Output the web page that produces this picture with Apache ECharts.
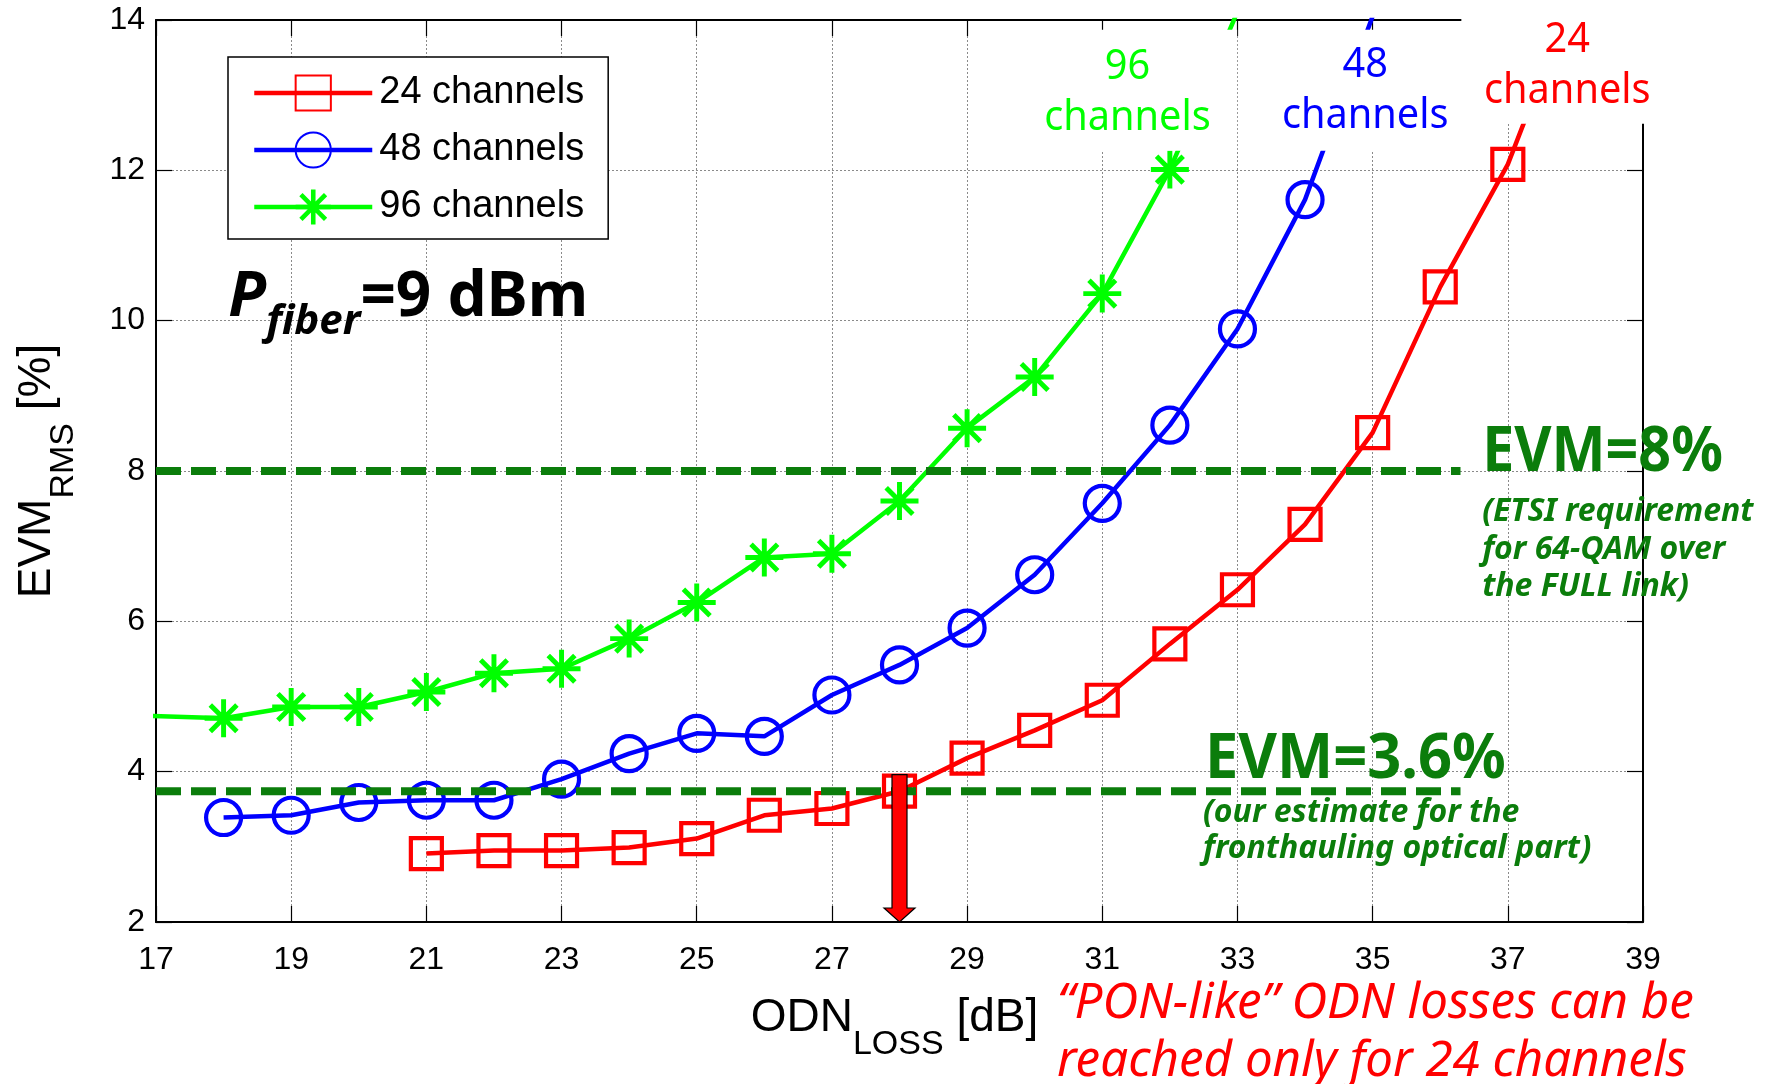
<!DOCTYPE html>
<html><head><meta charset="utf-8">
<script src="https://cdn.jsdelivr.net/npm/echarts@6/dist/echarts.min.js"></script>
<style>html,body{margin:0;padding:0;background:#fff}#c{width:1773px;height:1084px}</style>
</head><body><div id="c"></div>
<script>
// ---- data ----
const seriesNames = ['24 channels', '48 channels', '96 channels'];
const odn24 = [21, 22, 23, 24, 25, 26, 27, 28, 29, 30, 31, 32, 33, 34, 35, 36, 37, 38];
const evm24 = [2.91, 2.95, 2.95, 2.99, 3.11, 3.42, 3.51, 3.74, 4.18, 4.55, 4.95, 5.70, 6.42, 7.29, 8.51, 10.45, 12.08, 14.4];
const odn48 = [18, 19, 20, 21, 22, 23, 24, 25, 26, 27, 28, 29, 30, 31, 32, 33, 34, 35];
const evm48 = [3.39, 3.42, 3.59, 3.62, 3.62, 3.90, 4.24, 4.51, 4.47, 5.02, 5.42, 5.91, 6.62, 7.57, 8.61, 9.89, 11.61, 14.05];
const odn96 = [16, 18, 19, 20, 21, 22, 23, 24, 25, 26, 27, 28, 29, 30, 31, 32, 33];
const evm96 = [4.77, 4.71, 4.86, 4.86, 5.06, 5.31, 5.37, 5.77, 6.25, 6.85, 6.90, 7.60, 8.57, 9.25, 10.36, 12.01, 14.11];
const evmLimits = [8, 3.74];          // EVM=8% and EVM=3.6% reference lines
const limitSpan = [17, 36.3];         // ODN range covered by the reference lines
const ponLoss = [28, 3.96, 2];        // arrow: ODN loss, EVM start, EVM end
const xRange = [17, 39], xStep = 2;
const yRange = [2, 14], yStep = 2;

const zip = (xs, ys) => xs.map((x, i) => [x, ys[i]]);

const RED = '#ff0000', BLUE = '#0000ff', GREEN = '#00ff00', DKGREEN = '#0b7d0b';
const starPath = 'path://M43.5,0L56.5,0L56.5,100L43.5,100Z M0,43.5L100,43.5L100,56.5L0,56.5Z ' +
  'M19.6,10.4L89.6,80.4L80.4,89.6L10.4,19.6Z M80.4,10.4L89.6,19.6L19.6,89.6L10.4,80.4Z';

const ANN = '"Noto Sans", sans-serif';
const annotations = [
  {coord: [31.40, 12.26], text: '96\nchannels', fontSize: 42, color: GREEN, align: 'center', vAlign: 'bottom', lineHeight: 51, scaleX: 0.945, bg: '#fff', padding: [12, 28, 7, 24]},
  {coord: [34.89, 12.26], text: '48\nchannels', fontSize: 42, color: BLUE, align: 'center', vAlign: 'bottom', lineHeight: 51, scaleX: 0.945, bg: '#fff', padding: [10, 24, 9, 24]},
  {coord: [37.88, 12.62], text: '24\nchannels', fontSize: 42, color: RED, align: 'center', vAlign: 'bottom', lineHeight: 51, scaleX: 0.945, bg: '#fff', padding: [12, 24, 7, 24]},
  {coord: [36.62, 8.24], text: 'EVM=8%', fontSize: 63, fontWeight: 'bold', color: DKGREEN, align: 'left', vAlign: 'middle', scaleX: 0.91},
  {coord: [36.62, 7.70], text: '(ETSI requirement\nfor 64-QAM over\nthe FULL link)', fontSize: 32, fontWeight: 'bold', fontStyle: 'italic', color: DKGREEN, align: 'left', vAlign: 'top', lineHeight: 37.5, scaleX: 1.0},
  {coord: [32.52, 4.16], text: 'EVM=3.6%', fontSize: 63, fontWeight: 'bold', color: DKGREEN, align: 'left', vAlign: 'middle', scaleX: 0.945},
  {coord: [32.49, 3.69], text: '(our estimate for the\nfronthauling optical part)', fontSize: 32, fontWeight: 'bold', fontStyle: 'italic', color: DKGREEN, align: 'left', vAlign: 'top', lineHeight: 36, scaleX: 1.0},
  {coord: [30.33, 1.29], text: '\u201cPON-like\u201d ODN losses can be\nreached only for 24 channels', fontSize: 50, fontStyle: 'italic', color: RED, align: 'left', vAlign: 'top', lineHeight: 57.5, scaleX: 0.985},
  {coord: [18.07, 10.71], text: '{P|P}{s|fiber}{r|=9 dBm}', align: 'left', vAlign: 'top', scaleX: 1.0, color: '#000',
    rich: {
      P: {fontSize: 62, fontWeight: 'bold', fontStyle: 'italic', fontFamily: ANN, lineHeight: 62, verticalAlign: 'top', fill: '#000'},
      s: {fontSize: 42, fontWeight: 'bold', fontStyle: 'italic', fontFamily: ANN, lineHeight: 42, verticalAlign: 'top', padding: [34, 0, 0, 0], fill: '#000'},
      r: {fontSize: 62, fontWeight: 'bold', fontFamily: ANN, lineHeight: 62, verticalAlign: 'top', fill: '#000'}
    }}
];

const AX = '"Liberation Sans", Arial, sans-serif';
const gridLine = {show: true, lineStyle: {color: '#8a8a8a', width: 1, type: [2, 2]}};
const tick = {show: true, inside: true, length: 16, lineStyle: {color: '#000', width: 1.2}};

const lineSeries = (name, data, color, symbol, size, filled) => ({
  name, type: 'line', data, z: 2, clip: true,
  symbol, symbolSize: size, showAllSymbol: true,
  lineStyle: {color, width: 4.5},
  itemStyle: filled ? {color, borderWidth: 0} : {color: 'rgba(0,0,0,0)', borderColor: color, borderWidth: 4.2},
  emphasis: {disabled: true}
});

const option = {
  animation: false,
  backgroundColor: '#fff',
  grid: {left: 156, right: 130, top: 20, bottom: 162, containLabel: false},
  legend: {
    data: seriesNames, orient: 'vertical', left: 228, top: 57, align: 'left',
    itemWidth: 118, itemHeight: 44, itemGap: 19, padding: [17, 24, 13, 24],
    backgroundColor: '#fff', borderColor: '#000', borderWidth: 1.5, borderRadius: 0,
    lineStyle: {width: 'inherit'},
    textStyle: {fontFamily: AX, fontSize: 38, color: '#000', padding: [0, 0, 0, 2]},
    selectedMode: false
  },
  xAxis: [{
    type: 'value', min: xRange[0], max: xRange[1], interval: xStep,
    axisLine: {show: true, onZero: false, lineStyle: {color: '#000', width: 2}},
    axisTick: tick, splitLine: gridLine,
    axisLabel: {fontFamily: AX, fontSize: 32, color: '#000', margin: 22},
    name: '{a|ODN}{b|LOSS}{a| [dB]}', nameLocation: 'middle', nameGap: 73,
    nameTextStyle: {padding: [0, 10, 0, 0], rich: {
      a: {fontFamily: AX, fontSize: 46, lineHeight: 46, color: '#000', verticalAlign: 'top'},
      b: {fontFamily: AX, fontSize: 34, lineHeight: 34, color: '#000', verticalAlign: 'top', padding: [33, 0, 0, 0]}
    }}
  }, {
    type: 'value', position: 'top', min: xRange[0], max: xRange[1], interval: xStep,
    axisLine: {show: true, onZero: false, lineStyle: {color: '#000', width: 2}},
    axisTick: tick, axisLabel: {show: false}, splitLine: {show: false}
  }],
  yAxis: [{
    type: 'value', min: yRange[0], max: yRange[1], interval: yStep,
    axisLine: {show: true, onZero: false, lineStyle: {color: '#000', width: 2}},
    axisTick: tick, splitLine: gridLine,
    axisLabel: {fontFamily: AX, fontSize: 32, color: '#000', margin: 11},
    name: '{a|EVM}{b|RMS}{a| [%]}', nameLocation: 'middle', nameGap: 96,
    nameTextStyle: {rich: {
      a: {fontFamily: AX, fontSize: 46, lineHeight: 46, color: '#000', verticalAlign: 'top'},
      b: {fontFamily: AX, fontSize: 34, lineHeight: 34, color: '#000', verticalAlign: 'top', padding: [33, 0, 0, 0]}
    }}
  }, {
    type: 'value', position: 'right', min: yRange[0], max: yRange[1], interval: yStep,
    axisLine: {show: true, onZero: false, lineStyle: {color: '#000', width: 2}},
    axisTick: tick, axisLabel: {show: false}, splitLine: {show: false}
  }],
  series: [
    lineSeries(seriesNames[0], zip(odn24, evm24), RED, 'rect', 31, false),
    lineSeries(seriesNames[1], zip(odn48, evm48), BLUE, 'circle', 35, false),
    lineSeries(seriesNames[2], zip(odn96, evm96), GREEN, starPath, 38, true),
    ...evmLimits.map((v, i) => ({
      name: 'limit' + i, type: 'line', z: 3, symbol: 'none', silent: true,
      data: limitSpan.map(x => [x, v]),
      lineStyle: {color: DKGREEN, width: 8, type: [25, 10]}
    })),
    {
      name: 'arrow', type: 'custom', z: 4, silent: true, clip: false,
      data: [ponLoss],
      renderItem: (params, api) => {
        const top = api.coord([api.value(0), api.value(1)]);
        const tip = api.coord([api.value(0), api.value(2)]);
        const x = top[0], bw = 7.5, hw = 15.5, hl = 14;
        return {type: 'polygon', shape: {points: [
          [x - bw, top[1]], [x + bw, top[1]], [x + bw, tip[1] - hl], [x + hw, tip[1] - hl],
          [x, tip[1]], [x - hw, tip[1] - hl], [x - bw, tip[1] - hl]]},
          style: {fill: RED, stroke: '#000', lineWidth: 1.2}};
      }
    },
    {
      name: 'notes', type: 'custom', z: 5, silent: true, clip: false,
      data: annotations.map(a => a.coord),
      renderItem: (params, api) => {
        const a = annotations[params.dataIndex];
        const p = api.coord([api.value(0), api.value(1)]);
        const style = {
          text: a.text, fill: a.color, align: a.align, verticalAlign: a.vAlign,
          fontFamily: ANN, fontSize: a.fontSize || 40, fontWeight: a.fontWeight || 'normal',
          fontStyle: a.fontStyle || 'normal'
        };
        if (a.lineHeight) style.lineHeight = a.lineHeight;
        if (a.bg) { style.backgroundColor = a.bg; style.padding = a.padding; }
        if (a.rich) style.rich = a.rich;
        return {type: 'text', x: p[0], y: p[1], scaleX: a.scaleX || 1, style};
      }
    }
  ]
};

const chart = echarts.init(document.getElementById('c'), null, {renderer: 'canvas'});
chart.setOption(option);
</script></body></html>
